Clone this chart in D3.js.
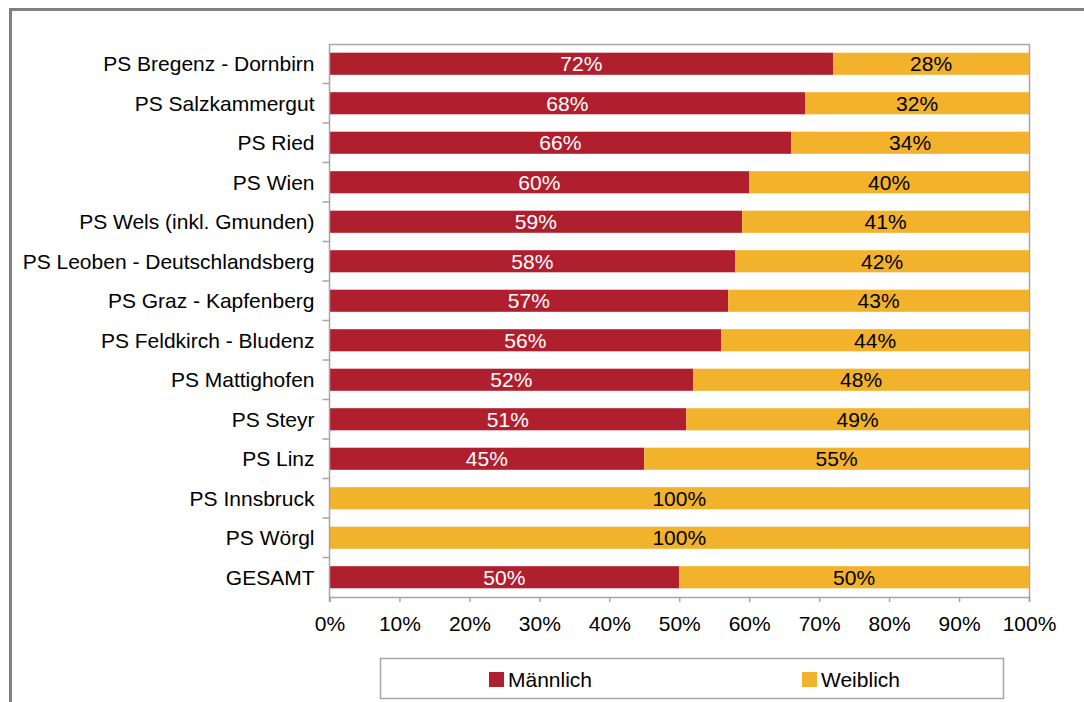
<!DOCTYPE html>
<html>
<head>
<meta charset="utf-8">
<script src="https://cdn.jsdelivr.net/npm/d3@7"></script>
<style>
  body { margin: 0; background: #fff; }
  svg text { font-family: "Liberation Sans", Arial, sans-serif; }
</style>
</head>
<body>
<div id="chart"></div>
<script>
var categories = ["PS Bregenz - Dornbirn", "PS Salzkammergut", "PS Ried", "PS Wien",
    "PS Wels (inkl. Gmunden)", "PS Leoben - Deutschlandsberg", "PS Graz - Kapfenberg",
    "PS Feldkirch - Bludenz", "PS Mattighofen", "PS Steyr", "PS Linz", "PS Innsbruck",
    "PS Wörgl", "GESAMT"];
var maennlich = [72, 68, 66, 60, 59, 58, 57, 56, 52, 51, 45, 0, 0, 50];
var weiblich = [28, 32, 34, 40, 41, 42, 43, 44, 48, 49, 55, 100, 100, 50];
var seriesNames = ["Männlich", "Weiblich"];
var xTicks = [0, 10, 20, 30, 40, 50, 60, 70, 80, 90, 100];

var colors = {"Männlich": "#b01f2e", "Weiblich": "#f2b22c"};
var labelColors = {"Männlich": "#ffffff", "Weiblich": "#000000"};

var width = 1084, height = 702;
var plot = {left: 329.5, right: 1029, top: 44, bottom: 597};
var fontSize = 21;

var svg = d3.select("#chart").append("svg")
    .attr("width", width)
    .attr("height", height);

// outer frame
svg.append("rect")
    .attr("x", 10.5).attr("y", 9.5)
    .attr("width", 1100).attr("height", 720)
    .attr("fill", "none")
    .attr("stroke", "#808080")
    .attr("stroke-width", 3);

var x = d3.scaleLinear().domain([0, 100]).range([plot.left, plot.right]);
var y = d3.scaleBand().domain(categories).range([plot.top, plot.bottom]).paddingInner(0.44).paddingOuter(0.22);
var band = d3.scaleBand().domain(categories).range([plot.top, plot.bottom]);

// plot area top / right border
svg.append("path")
    .attr("d", "M" + plot.left + "," + (plot.top + 0.5) + "H" + (plot.right + 0.5) + "V" + plot.bottom)
    .attr("fill", "none")
    .attr("stroke", "#a6a6a6")
    .attr("stroke-width", 1.5);

var rows = categories.map(function(c, i) {
    return {cat: c, "Männlich": maennlich[i], "Weiblich": weiblich[i]};
});
var stacked = d3.stack().keys(seriesNames)(rows);

var layers = svg.selectAll("g.layer")
    .data(stacked)
    .enter().append("g")
    .attr("class", "layer");

layers.selectAll("rect")
    .data(function(d) { return d.map(function(p) { return {key: d.key, p: p}; }); })
    .enter().append("rect")
    .attr("x", d => x(d.p[0]))
    .attr("y", d => y(d.p.data.cat))
    .attr("width", d => x(d.p[1]) - x(d.p[0]))
    .attr("height", y.bandwidth())
    .attr("fill", d => colors[d.key]);

layers.selectAll("text")
    .data(function(d) { return d.map(function(p) { return {key: d.key, p: p}; }).filter(e => e.p[1] - e.p[0] > 0); })
    .enter().append("text")
    .attr("x", d => (x(d.p[0]) + x(d.p[1])) / 2)
    .attr("y", d => y(d.p.data.cat) + y.bandwidth() / 2)
    .attr("dy", "0.36em")
    .attr("text-anchor", "middle")
    .attr("font-size", fontSize)
    .attr("fill", d => labelColors[d.key])
    .text(d => (d.p[1] - d.p[0]) + "%");

// y axis
var yAxis = svg.append("g");
yAxis.append("line")
    .attr("x1", plot.left).attr("x2", plot.left)
    .attr("y1", plot.top).attr("y2", plot.bottom + 5)
    .attr("stroke", "#a6a6a6").attr("stroke-width", 1.5);
yAxis.selectAll("line.tick")
    .data(categories.slice(1))
    .enter().append("line")
    .attr("class", "tick")
    .attr("x1", plot.left - 7).attr("x2", plot.left)
    .attr("y1", d => band(d)).attr("y2", d => band(d))
    .attr("stroke", "#a6a6a6").attr("stroke-width", 1.5);
yAxis.selectAll("text")
    .data(categories)
    .enter().append("text")
    .attr("x", plot.left - 15)
    .attr("y", d => y(d) + y.bandwidth() / 2)
    .attr("dy", "0.36em")
    .attr("text-anchor", "end")
    .attr("font-size", fontSize)
    .attr("fill", "#000")
    .text(d => d);

// x axis
var xAxis = svg.append("g")
    .attr("transform", "translate(0," + plot.bottom + ")")
    .call(d3.axisBottom(x).tickValues(xTicks).tickSize(5).tickFormat(d => d + "%"));
xAxis.select(".domain").attr("stroke", "#a6a6a6").attr("stroke-width", 1.5);
xAxis.selectAll(".tick line").attr("stroke", "#a6a6a6").attr("stroke-width", 1.5);
xAxis.selectAll(".tick text")
    .attr("font-size", fontSize)
    .attr("font-family", "Liberation Sans, Arial, sans-serif")
    .attr("fill", "#000")
    .attr("y", 19);

// legend
var legend = svg.append("g");
legend.append("rect")
    .attr("x", 380.5).attr("y", 658.5)
    .attr("width", 623).attr("height", 40)
    .attr("fill", "#fff")
    .attr("stroke", "#a6a6a6")
    .attr("stroke-width", 1.5);
var legendX = [489, 802];
var items = legend.selectAll("g.item")
    .data(seriesNames)
    .enter().append("g")
    .attr("transform", (d, i) => "translate(" + legendX[i] + ",672)");
items.append("rect")
    .attr("width", 15).attr("height", 15)
    .attr("fill", d => colors[d]);
items.append("text")
    .attr("x", 19).attr("y", 7.5)
    .attr("dy", "0.36em")
    .attr("font-size", fontSize)
    .attr("fill", "#000")
    .text(d => d);
</script>
</body>
</html>
